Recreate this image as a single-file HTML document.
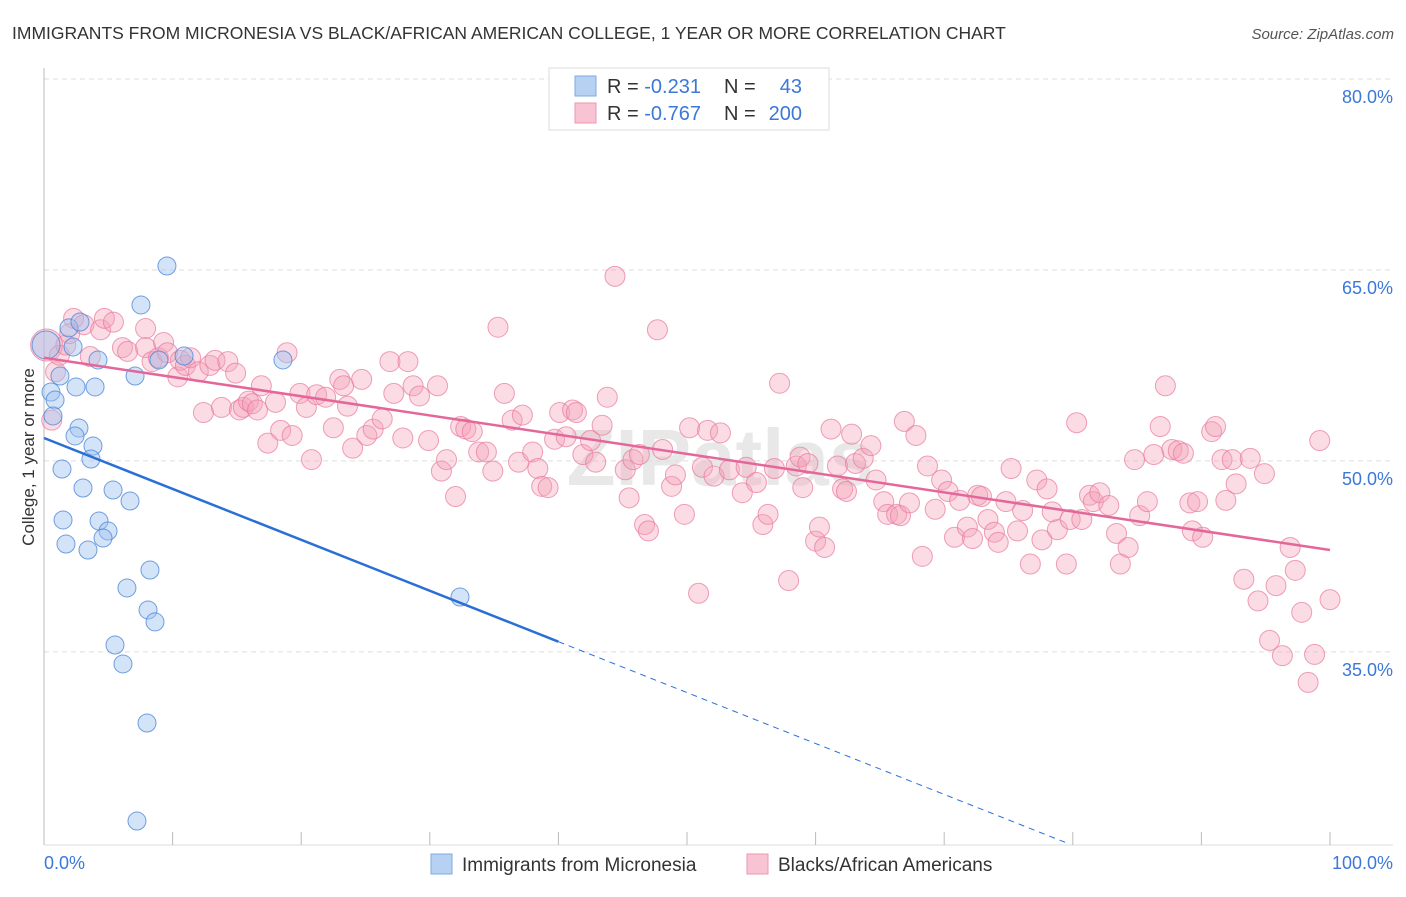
<!DOCTYPE html>
<html><head><meta charset="utf-8"><style>
body{margin:0;background:#fff;font-family:"Liberation Sans",sans-serif;}
svg text{font-family:"Liberation Sans",sans-serif;}
</style></head><body>
<svg id="chart" width="1406" height="892" viewBox="0 0 1406 892">
<text x="12" y="39" font-size="17.5" fill="#333">IMMIGRANTS FROM MICRONESIA VS BLACK/AFRICAN AMERICAN COLLEGE, 1 YEAR OR MORE CORRELATION CHART</text>
<text x="1394" y="39" font-size="15" fill="#555" font-style="italic" text-anchor="end">Source: ZipAtlas.com</text>
<text x="720" y="485" font-size="80" fill="#e8e8e8" text-anchor="middle" font-weight="bold">ZIPatlas</text>
<g id="grid"></g>
<g id="ticks"></g>
<g id="pink"></g>
<g id="blue"></g>
<g id="lines"></g>
<text transform="translate(34,457) rotate(-90)" font-size="17" fill="#333" text-anchor="middle">College, 1 year or more</text>
<g>
<rect x="549" y="68" width="280" height="62" fill="#fff" stroke="#ddd"/>
<rect x="575" y="76" width="21" height="20" fill="#b7d1f3" stroke="#7ea9e3"/>
<rect x="575" y="103" width="21" height="20" fill="#f8c3d2" stroke="#ee94ae"/>
<text x="607" y="93" font-size="20" fill="#333">R = <tspan fill="#3b78d8">-0.231</tspan></text>
<text x="724" y="93" font-size="20" fill="#333">N = </text><text x="802" y="93" font-size="20" fill="#3b78d8" text-anchor="end">43</text>
<text x="607" y="120" font-size="20" fill="#333">R = <tspan fill="#3b78d8">-0.767</tspan></text>
<text x="724" y="120" font-size="20" fill="#333">N = </text><text x="802" y="120" font-size="20" fill="#3b78d8" text-anchor="end">200</text>
</g>
<g>
<rect x="431" y="854" width="21" height="20" fill="#b7d1f3" stroke="#7ea9e3"/>
<text x="462" y="871" font-size="19" fill="#333">Immigrants from Micronesia</text>
<rect x="747" y="854" width="21" height="20" fill="#f8c3d2" stroke="#ee94ae"/>
<text x="778" y="871" font-size="19" fill="#333">Blacks/African Americans</text>
</g>
</svg>
<script>
const yTicks=[80,65,50,35];
const yTickLabels=["80.0%","65.0%","50.0%","35.0%"];
const xTickLabels=["0.0%","100.0%"];
const blueX=[9.56,7.54,1.94,2.80,2.26,4.20,7.08,3.97,2.49,10.89,18.58,1.24,0.54,0.86,0.70,2.72,2.41,3.81,3.65,1.40,3.03,5.37,6.69,1.48,4.28,4.98,4.59,1.71,3.42,8.24,6.45,8.09,8.63,5.52,6.14,8.01,7.23,32.35,0.16,8.94];
const blueY=[65.31,62.25,60.45,60.91,58.95,57.93,56.67,55.81,55.81,58.24,57.93,56.67,55.41,54.78,53.53,52.58,51.96,51.17,50.15,49.36,47.87,47.71,46.85,45.36,45.28,44.49,43.94,43.47,43.0,41.43,40.02,38.29,37.35,35.54,34.05,29.41,21.71,39.31,59.1,57.93];
const pinkX=[0.2,0.9,0.6,1.2,1.7,2.3,2.0,3.1,3.6,4.4,4.7,5.4,6.1,6.5,7.9,7.9,8.4,8.9,9.3,9.6,10.4,10.6,11.0,11.4,12.0,12.4,12.9,13.3,13.8,14.3,14.9,15.2,15.5,15.9,16.2,16.6,16.9,17.4,18.0,18.4,18.9,19.3,19.9,20.4,20.8,21.2,21.9,22.5,23.0,23.3,23.6,24.0,24.7,25.1,25.6,26.3,26.9,27.2,27.9,28.3,28.7,29.2,29.9,30.6,30.9,31.3,32.0,32.4,32.8,33.3,33.8,34.4,34.9,35.3,35.8,36.4,36.9,37.2,38.0,38.4,38.7,39.2,39.7,40.1,40.6,41.1,41.4,41.9,42.5,42.9,43.4,43.8,44.4,45.2,45.5,45.8,46.3,46.7,47.0,47.7,48.1,48.8,49.1,49.8,50.2,50.9,51.2,51.6,52.1,52.6,53.3,54.3,54.6,55.4,55.9,56.3,56.8,57.2,57.9,58.5,58.8,59.0,59.4,60.0,60.3,60.7,61.2,61.7,62.1,62.4,62.8,63.1,63.7,64.3,64.7,65.3,65.6,66.3,66.6,66.9,67.3,67.8,68.3,68.7,69.3,69.8,70.3,70.8,71.2,71.8,72.2,72.6,72.9,73.4,73.9,74.2,74.8,75.2,75.7,76.1,76.7,77.2,77.6,78.0,78.4,78.8,79.5,79.8,80.3,80.7,81.3,81.6,82.1,82.8,83.4,83.7,84.3,84.8,85.2,85.8,86.3,86.8,87.2,87.7,88.2,88.6,89.1,89.3,89.7,90.1,90.8,91.1,91.6,91.9,92.4,92.7,93.3,93.8,94.4,94.9,95.3,95.8,96.3,96.9,97.3,97.8,98.3,98.8,99.2,100];
const pinkY=[59.1,57.0,53.2,58.3,59.1,61.2,60.0,60.7,58.2,60.3,61.2,60.9,58.9,58.6,60.4,58.9,57.8,58.1,59.3,58.5,56.6,57.9,57.5,58.1,57.0,53.8,57.5,57.9,54.2,57.8,56.9,54.0,54.2,54.7,54.5,54.0,55.9,51.4,54.6,52.4,58.5,52.0,55.3,54.2,50.1,55.2,55.0,52.6,56.4,55.9,54.3,51.0,56.4,52.0,52.5,53.3,57.8,55.3,51.8,57.8,55.9,55.1,51.6,55.9,49.2,50.1,47.2,52.7,52.5,52.3,50.7,50.7,49.2,60.5,55.3,53.2,49.9,53.6,50.7,49.4,48.0,47.9,51.7,53.8,51.9,54.0,53.8,50.5,51.6,49.9,52.8,55.0,64.5,49.3,47.1,50.1,50.5,45.0,44.5,60.3,50.9,48.0,48.9,45.8,52.6,39.6,49.5,52.4,48.8,52.2,49.3,47.5,49.5,48.3,45.0,45.8,49.4,56.1,40.6,49.6,50.3,47.9,49.8,43.7,44.8,43.2,52.5,49.6,47.8,47.6,52.1,49.8,50.2,51.2,48.5,46.8,45.8,45.8,45.7,53.1,46.7,52.0,42.5,49.6,46.2,48.5,47.6,44.0,46.9,44.8,43.9,47.3,47.2,45.4,44.4,43.6,46.8,49.4,44.5,46.1,41.9,48.5,43.8,47.8,46.0,44.6,41.9,45.4,53.0,45.4,47.3,46.8,47.5,46.5,44.3,41.9,43.2,50.1,45.7,46.8,50.5,52.7,55.9,50.9,50.8,50.6,46.7,44.5,46.8,44.0,52.3,52.7,50.1,46.9,50.1,48.2,40.7,50.2,39.0,49.0,35.9,40.2,34.7,43.2,41.4,38.1,32.6,34.8,51.6,39.1];
const blueTrend=[51.8,-0.40];
const pinkTrend=[58.1,-0.151];
const blueSolidEnd=40;

const NS="http://www.w3.org/2000/svg";
const X0=44,X1=1330,Y80=79,PXPER=12.73;
const sx=v=>X0+(X1-X0)*v/100;
const sy=v=>Y80+(80-v)*PXPER;
function mk(tag,attrs,parent){const e=document.createElementNS(NS,tag);for(const k in attrs)e.setAttribute(k,attrs[k]);parent.appendChild(e);return e;}
const grid=document.getElementById('grid'),ticks=document.getElementById('ticks');
yTicks.forEach((t,i)=>{
  const l=mk('line',{x1:44,x2:1393,y1:sy(t),y2:sy(t),stroke:'#ddd','stroke-dasharray':'5,4'},grid);
  
  
  const tx=mk('text',{x:1393,y:sy(t)+24,'font-size':18,fill:'#3b78d8','text-anchor':'end'},ticks);
  tx.textContent=yTickLabels[i];
  
  
});
const ax=mk('line',{x1:44,x2:44,y1:68,y2:845,stroke:'#bbb'},ticks);


const bx=mk('line',{x1:44,x2:1393,y1:845,y2:845,stroke:'#ddd'},ticks);


for(let v=10;v<=100;v+=10){
  const t=mk('line',{x1:sx(v),x2:sx(v),y1:832,y2:845,stroke:'#bbb'},ticks);
  
  
}
const xl0=mk('text',{x:44,y:869,'font-size':18,fill:'#3b78d8'},ticks);
xl0.textContent=xTickLabels[0];


const xl1=mk('text',{x:1393,y:869,'font-size':18,fill:'#3b78d8','text-anchor':'end'},ticks);
xl1.textContent=xTickLabels[1];



const pg=document.getElementById('pink');
pinkX.forEach((x,i)=>{
  const c=mk('circle',{cx:sx(x),cy:sy(pinkY[i]),r:i===0?16:10,fill:'rgba(245,160,185,0.38)',stroke:'rgba(232,120,155,0.7)','stroke-width':1},pg);
  
  
});
const bg=document.getElementById('blue');
blueX.forEach((x,i)=>{
  const c=mk('circle',{cx:sx(x),cy:sy(blueY[i]),r:i===38?14:9,fill:'rgba(160,195,240,0.45)',stroke:'rgba(70,130,215,0.75)','stroke-width':1},bg);
  
  
});
const lg=document.getElementById('lines');
const by=v=>blueTrend[0]+blueTrend[1]*v;
const py=v=>pinkTrend[0]+pinkTrend[1]*v;
const bxEnd=(20-blueTrend[0])/blueTrend[1];
const l1=mk('line',{x1:sx(0),y1:sy(by(0)),x2:sx(blueSolidEnd),y2:sy(by(blueSolidEnd)),stroke:'#2a6fd6','stroke-width':2.5},lg);


const l2=mk('line',{x1:sx(blueSolidEnd),y1:sy(by(blueSolidEnd)),x2:sx(bxEnd),y2:sy(by(bxEnd)),stroke:'#2a6fd6','stroke-width':1,'stroke-dasharray':'6,5'},lg);


const l3=mk('line',{x1:sx(0),y1:sy(py(0)),x2:sx(100),y2:sy(py(100)),stroke:'#e4679a','stroke-width':2.5},lg);


</script>
</body></html>
